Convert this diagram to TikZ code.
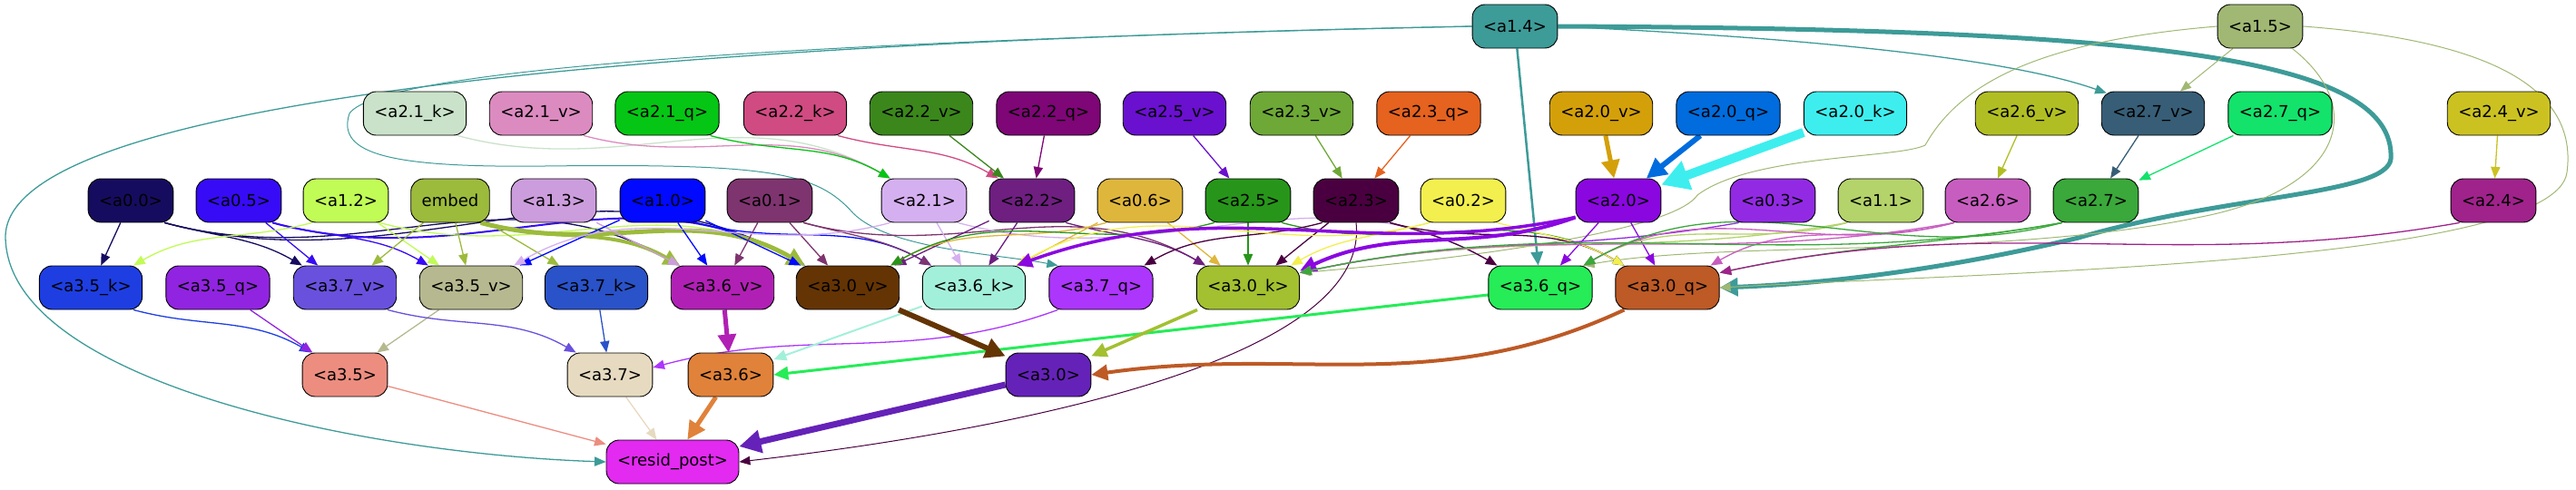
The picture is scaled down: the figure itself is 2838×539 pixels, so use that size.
\documentclass[tikz,border=0pt]{standalone}
\usepackage{fontspec}
\setmainfont{DejaVu Sans}
\usetikzlibrary{arrows.meta}
\pgfdeclarelayer{bg}
\pgfsetlayers{bg,main}
\definecolor{c14}{HTML}{3D9B98}\definecolor{c15}{HTML}{A0B873}
\definecolor{c21k}{HTML}{C9E2C9}\definecolor{c21v}{HTML}{DC8BC0}\definecolor{c21q}{HTML}{05C614}
\definecolor{c22k}{HTML}{D04B82}\definecolor{c22v}{HTML}{3B871C}\definecolor{c22q}{HTML}{7E0676}
\definecolor{c25v}{HTML}{6A10CF}\definecolor{c23v}{HTML}{6EA837}\definecolor{c23q}{HTML}{E5621F}
\definecolor{c20v}{HTML}{D4A00A}\definecolor{c20q}{HTML}{006CDD}\definecolor{c20k}{HTML}{3EEEEE}
\definecolor{c26v}{HTML}{B1BE23}\definecolor{c27v}{HTML}{375E76}\definecolor{c27q}{HTML}{13E26B}
\definecolor{c24v}{HTML}{CBC222}
\definecolor{c00}{HTML}{160C5F}\definecolor{c05}{HTML}{370BF5}\definecolor{c12}{HTML}{C1FB56}
\definecolor{cemb}{HTML}{9CBB3C}\definecolor{c13}{HTML}{CC9DDD}\definecolor{c10}{HTML}{0109FE}
\definecolor{c01}{HTML}{7E346F}\definecolor{c21}{HTML}{D5B0F0}\definecolor{c22}{HTML}{6E1F80}
\definecolor{c06}{HTML}{DFB63C}\definecolor{c25}{HTML}{27951A}\definecolor{c23}{HTML}{4A0040}
\definecolor{c02}{HTML}{F2EF4E}\definecolor{c20}{HTML}{8A07E0}\definecolor{c03}{HTML}{922AE4}
\definecolor{c11}{HTML}{B4D36A}\definecolor{c26}{HTML}{C85DC0}\definecolor{c27}{HTML}{3AA83A}
\definecolor{c24}{HTML}{A0228B}
\definecolor{c35k}{HTML}{1E3EE2}\definecolor{c35q}{HTML}{9124E0}\definecolor{c37v}{HTML}{6951DD}
\definecolor{c35v}{HTML}{B6B98F}\definecolor{c37k}{HTML}{2A52C9}\definecolor{c36v}{HTML}{B020B4}
\definecolor{c30v}{HTML}{643404}\definecolor{c36k}{HTML}{A3F0DA}\definecolor{c37q}{HTML}{AC36FC}
\definecolor{c30k}{HTML}{A2C030}\definecolor{c36q}{HTML}{25EC57}\definecolor{c30q}{HTML}{BD5A26}
\definecolor{c35}{HTML}{EC8D80}\definecolor{c37}{HTML}{E6DAC0}\definecolor{c36}{HTML}{E0823A}
\definecolor{c30}{HTML}{6522B8}\definecolor{cres}{HTML}{E22AF0}
\tikzset{
  nd/.style={draw=black, line width=0.9pt, rounded corners=14pt, minimum height=48pt,
    inner xsep=12pt, inner ysep=0pt, font=\fontsize{18}{20}\selectfont, text=black},
  ed/.style={line width=1.3pt, -{Triangle[length=10pt 2, width=7pt 2.5]}},
}
\newcommand\eS[4][]{\draw[ed,#2,#1] (#3) -- (#4);}
\newcommand\eR[4][]{\draw[ed,#2,#1] ([xshift=-10pt]#3.south east) to[out=-15,in=150] ([xshift=10pt]#4.north west);}
\newcommand\eL[4][]{\draw[ed,#2,#1] ([xshift=10pt]#3.south west) to[out=195,in=30] ([xshift=-10pt]#4.north east);}
\newcommand\eF[4][]{\draw[ed,#2,#1] ([xshift=10pt]#3.south west) to[out=190,in=12] ([yshift=-8pt]#4.north east);}
\begin{document}
\begin{tikzpicture}[x=1pt,y=1pt]
\useasboundingbox (0,0) rectangle (2838,-539);
% row 1
\node[nd,fill=c14] (a14) at (1669,-29) {<a1.4>};
\node[nd,fill=c15] (a15) at (2490,-29) {<a1.5>};
% row 2
\node[nd,fill=c21k] (a21k) at (457,-125) {<a2.1\_k>};
\node[nd,fill=c21v] (a21v) at (596,-125) {<a2.1\_v>};
\node[nd,fill=c21q] (a21q) at (735,-125) {<a2.1\_q>};
\node[nd,fill=c22k] (a22k) at (876,-125) {<a2.2\_k>};
\node[nd,fill=c22v] (a22v) at (1015,-125) {<a2.2\_v>};
\node[nd,fill=c22q] (a22q) at (1155,-125) {<a2.2\_q>};
\node[nd,fill=c25v] (a25v) at (1294,-125) {<a2.5\_v>};
\node[nd,fill=c23v] (a23v) at (1434,-125) {<a2.3\_v>};
\node[nd,fill=c23q] (a23q) at (1574,-125) {<a2.3\_q>};
\node[nd,fill=c20v] (a20v) at (1764,-125) {<a2.0\_v>};
\node[nd,fill=c20q] (a20q) at (1904,-125) {<a2.0\_q>};
\node[nd,fill=c20k] (a20k) at (2044,-125) {<a2.0\_k>};
\node[nd,fill=c26v] (a26v) at (2233,-125) {<a2.6\_v>};
\node[nd,fill=c27v] (a27v) at (2372,-125) {<a2.7\_v>};
\node[nd,fill=c27q] (a27q) at (2512,-125) {<a2.7\_q>};
\node[nd,fill=c24v] (a24v) at (2753,-125) {<a2.4\_v>};
% row 3
\node[nd,fill=c00] (a00) at (144,-221) {<a0.0>};
\node[nd,fill=c05] (a05) at (263,-221) {<a0.5>};
\node[nd,fill=c12] (a12) at (381,-221) {<a1.2>};
\node[nd,fill=cemb] (emb) at (496,-221) {embed};
\node[nd,fill=c13] (a13) at (610,-221) {<a1.3>};
\node[nd,fill=c10] (a10) at (730,-221) {<a1.0>};
\node[nd,fill=c01] (a01) at (848,-221) {<a0.1>};
\node[nd,fill=c21] (a21) at (1018,-221) {<a2.1>};
\node[nd,fill=c22] (a22) at (1137,-221) {<a2.2>};
\node[nd,fill=c06] (a06) at (1256,-221) {<a0.6>};
\node[nd,fill=c25] (a25) at (1375,-221) {<a2.5>};
\node[nd,fill=c23] (a23) at (1494,-221) {<a2.3>};
\node[nd,fill=c02] (a02) at (1612,-221) {<a0.2>};
\node[nd,fill=c20] (a20) at (1783,-221) {<a2.0>};
\node[nd,fill=c03] (a03) at (1953,-221) {<a0.3>};
\node[nd,fill=c11] (a11) at (2072,-221) {<a1.1>};
\node[nd,fill=c26] (a26) at (2190,-221) {<a2.6>};
\node[nd,fill=c27] (a27) at (2309,-221) {<a2.7>};
\node[nd,fill=c24] (a24) at (2747,-221) {<a2.4>};
% row 4
\node[nd,fill=c35k] (a35k) at (100,-317) {<a3.5\_k>};
\node[nd,fill=c35q] (a35q) at (240,-317) {<a3.5\_q>};
\node[nd,fill=c37v] (a37v) at (380,-317) {<a3.7\_v>};
\node[nd,fill=c35v] (a35v) at (519,-317) {<a3.5\_v>};
\node[nd,fill=c37k] (a37k) at (657,-317) {<a3.7\_k>};
\node[nd,fill=c36v] (a36v) at (796,-317) {<a3.6\_v>};
\node[nd,fill=c30v] (a30v) at (934,-317) {<a3.0\_v>};
\node[nd,fill=c36k] (a36k) at (1073,-317) {<a3.6\_k>};
\node[nd,fill=c37q] (a37q) at (1213,-317) {<a3.7\_q>};
\node[nd,fill=c30k] (a30k) at (1375,-317) {<a3.0\_k>};
\node[nd,fill=c36q] (a36q) at (1697,-317) {<a3.6\_q>};
\node[nd,fill=c30q] (a30q) at (1837,-317) {<a3.0\_q>};
% row 5
\node[nd,fill=c35] (a35) at (380,-413) {<a3.5>};
\node[nd,fill=c37] (a37) at (672,-413) {<a3.7>};
\node[nd,fill=c36] (a36) at (805,-413) {<a3.6>};
\node[nd,fill=c30] (a30) at (1155,-413) {<a3.0>};
% row 6
\node[nd,fill=cres] (res) at (741,-509) {<resid\_post>};

\begin{pgfonlayer}{bg}
% from a1.4 and a1.5
\draw[ed,c14] (a14.west) .. controls (800,-45) and (10,-100) .. (6,-260)
  .. controls (6,-420) and (400,-500) .. (res.west);
\draw[ed,c14,line width=1pt] (a14.west) .. controls (900,-45) and (420,-75) .. (385,-125)
  .. controls (370,-170) and (430,-185) .. (600,-183)
  .. controls (850,-180) and (900,-190) .. (940,-235)
  .. controls (980,-275) and (1100,-280) .. ([xshift=10pt]a37q.north west);
\eS[line width=2.5pt]{c14}{a14}{a36q}
\draw[ed,c14,line width=5pt] (a14.east) .. controls (2350,-32) and (2640,-60) .. (2634,-175)
  .. controls (2630,-215) and (2450,-215) .. (2290,-262)
  .. controls (2130,-300) and (2000,-313) .. (a30q.east);
\draw[ed,c14] (a14.east) .. controls (1950,-40) and (2200,-60) .. ([xshift=6pt,yshift=-2pt]a27v.north west);
\eS[line width=1pt]{c15}{a15}{a27v}
\draw[ed,c15,line width=1pt] (a15.west) .. controls (2250,-45) and (2160,-90) .. (2121,-160)
  .. controls (2090,-175) and (1930,-170) .. (1870,-215)
  .. controls (1840,-260) and (1560,-290) .. ([yshift=-8pt]a30k.north east);
\draw[ed,c15,line width=1pt] ([xshift=-12pt]a15.south east) .. controls (2610,-120) and (2580,-210) .. (2420,-240)
  .. controls (2200,-285) and (1900,-265) .. ([xshift=-10pt]a36q.north east);
\draw[ed,c15,line width=1pt] (a15.east) .. controls (2750,-45) and (2840,-100) .. (2828,-190)
  .. controls (2815,-290) and (2200,-300) .. (a30q.east);
% row 2 -> row 3
\eR{c21k}{a21k}{a21}
\eR{c21v}{a21v}{a21}
\eR{c21q}{a21q}{a21}
\eR{c22k}{a22k}{a22}
\eS{c22v}{a22v}{a22}
\eS{c22q}{a22q}{a22}
\eS{c25v}{a25v}{a25}
\eS{c23v}{a23v}{a23}
\eS{c23q}{a23q}{a23}
\eS[line width=5pt]{c20v}{a20v}{a20}
\eS[line width=6pt]{c20q}{a20q}{a20}
\eS[line width=10pt]{c20k}{a20k}{a20}
\eS{c26v}{a26v}{a26}
\eS{c27v}{a27v}{a27}
\eS{c27q}{a27q}{a27}
\eS{c24v}{a24v}{a24}
% row 3 -> row 4
\eS{c00}{a00}{a35k}
\eR{c00}{a00}{a37v}
\eR{c00}{a00}{a36v}
\eR{c00}{a00}{a30v}
\eS{c05}{a05}{a37v}
\eR{c05}{a05}{a35v}
\eR[line width=2pt]{c05}{a05}{a30v}
\eL{c12}{a12}{a35k}
\eS{c12}{a12}{a35v}
\eR{c12}{a12}{a30v}
\eS{cemb}{emb}{a37v}
\eS{cemb}{emb}{a35v}
\eS{cemb}{emb}{a37k}
\eR[line width=4pt]{cemb}{emb}{a36v}
\eR[line width=5pt]{cemb}{emb}{a30v}
\eS{c13}{a13}{a36v}
\eS{c10}{a10}{a35v}
\eS{c10}{a10}{a36v}
\eS{c10}{a10}{a30v}
\eR{c10}{a10}{a36k}
\eS{c01}{a01}{a36v}
\eS{c01}{a01}{a30v}
\eR{c01}{a01}{a36k}
\eR{c01}{a01}{a30k}
\eL{c21}{a21}{a35v}
\eS{c21}{a21}{a36k}
\eR{c21}{a21}{a36q}
\eS{c22}{a22}{a30v}
\eS{c22}{a22}{a36k}
\eR{c22}{a22}{a30k}
\eL{c06}{a06}{a30v}
\eS{c06}{a06}{a36k}
\eS{c06}{a06}{a30k}
\eL{c25}{a25}{a30v}
\eS{c25}{a25}{a30k}
\eR{c25}{a25}{a30q}
\eL{c23}{a23}{a37q}
\eS{c23}{a23}{a30k}
\eR{c23}{a23}{a36q}
\eR{c23}{a23}{a30q}
\draw[ed,c23,line width=1pt] (a23.south) .. controls (1510,-390) and (1150,-470) .. (res.east);
\eL{c02}{a02}{a36k}
\eL{c02}{a02}{a30k}
\eR{c02}{a02}{a30q}
\draw[ed,c20,line width=3.5pt] ([yshift=6pt]a20.south west) to[out=192,in=20] ([xshift=-10pt]a36k.north east);
\draw[ed,c20,line width=4pt] ([yshift=6pt]a20.south west) to[out=200,in=25] ([yshift=-6pt]a30k.north east);
\eS{c20}{a20}{a36q}
\eS{c20}{a20}{a30q}
\eF{c03}{a03}{a30k}
\eF{c11}{a11}{a30k}
\eL{c11}{a11}{a36q}
\eF{c26}{a26}{a30k}
\eL{c26}{a26}{a36q}
\eL{c26}{a26}{a30q}
\eF{c27}{a27}{a30k}
\eL{c27}{a27}{a36q}
\eF{c27}{a27}{a30q}
\eF{c24}{a24}{a30q}
% row 4 -> row 5
\eR{c35k}{a35k}{a35}
\eS{c35q}{a35q}{a35}
\eS{c35v}{a35v}{a35}
\eR{c37v}{a37v}{a37}
\eS{c37k}{a37k}{a37}
\draw[ed,c37q] ([xshift=10pt]a37q.south west) to[out=200,in=15] ([yshift=8pt]a37.east);
\eS[line width=5pt]{c36v}{a36v}{a36}
\eS[line width=2pt]{c36k}{a36k}{a36}
\draw[ed,c36q,line width=3pt] ([yshift=-8pt]a36q.west) -- (a36.east);
\eS[line width=6pt]{c30v}{a30v}{a30}
\eS[line width=3.5pt]{c30k}{a30k}{a30}
\draw[ed,c30q,line width=4pt] ([xshift=10pt]a30q.south west) to[out=205,in=8] (a30.east);
% row 5 -> resid
\eS{c35}{a35}{res}
\eS{c37}{a37}{res}
\eS[line width=5pt]{c36}{a36}{res}
\eS[line width=7pt]{c30}{a30}{res}
\end{pgfonlayer}
\end{tikzpicture}
\end{document}
